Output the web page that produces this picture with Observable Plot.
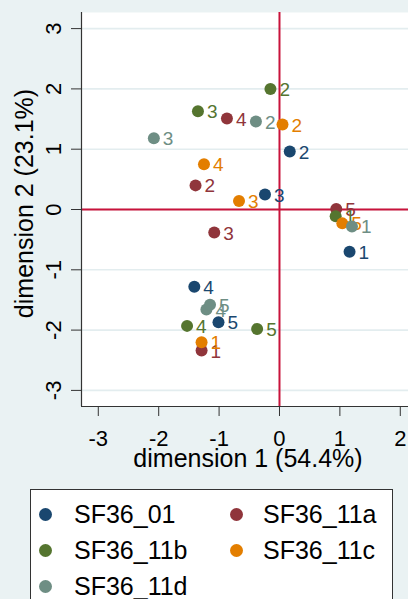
<!DOCTYPE html>
<html><head><meta charset="utf-8">
<script src="https://cdn.jsdelivr.net/npm/d3@7"></script>
<script src="https://cdn.jsdelivr.net/npm/@observablehq/plot@0.6"></script>
<style>
html,body{margin:0;padding:0;background:#eaf2f3;width:408px;height:599px;overflow:hidden;font-family:"Liberation Sans",Arial,sans-serif;}
#wrap{position:relative;width:408px;height:599px;}
#chart svg{display:block;}
#legend{position:absolute;left:30px;top:489px;width:363px;height:140px;background:#fff;border:1px solid #333;box-sizing:border-box;}
.item{position:absolute;font-size:25px;color:#000;line-height:26px;white-space:nowrap;}
.sw{position:absolute;width:13px;height:13px;border-radius:50%;}
</style></head><body><div id="wrap"><div id="chart"></div><div id="legend"></div></div>
<script>
const series = ["SF36_01", "SF36_11a", "SF36_11b", "SF36_11c", "SF36_11d"];
const colors = ["#1a476f", "#90353b", "#55752f", "#e37e00", "#6e8e84"];
const pointLabels = ["1", "2", "3", "4", "5"];
const dim1_SF36_01  = [1.16, 0.17, -0.24, -1.41, -1.01];
const dim2_SF36_01  = [-0.70, 0.96, 0.25, -1.28, -1.87];
const dim1_SF36_11a = [-1.29, -1.39, -1.08, -0.87, 0.94];
const dim2_SF36_11a = [-2.34, 0.40, -0.38, 1.51, 0.01];
const dim1_SF36_11b = [0.93, -0.15, -1.35, -1.53, -0.37];
const dim2_SF36_11b = [-0.11, 2.00, 1.63, -1.93, -1.98];
const dim1_SF36_11c = [-1.29, 0.05, -0.67, -1.25, 1.04];
const dim2_SF36_11c = [-2.20, 1.41, 0.14, 0.75, -0.23];
const dim1_SF36_11d = [1.20, -0.39, -2.08, -1.21, -1.15];
const dim2_SF36_11d = [-0.28, 1.46, 1.18, -1.66, -1.58];
const xTicks = [-3, -2, -1, 0, 1, 2];
const yTicks = [-3, -2, -1, 0, 1, 2, 3];
const xTitle = "dimension 1 (54.4%)";
const yTitle = "dimension 2 (23.1%)";

const dim1 = [dim1_SF36_01, dim1_SF36_11a, dim1_SF36_11b, dim1_SF36_11c, dim1_SF36_11d];
const dim2 = [dim2_SF36_01, dim2_SF36_11a, dim2_SF36_11b, dim2_SF36_11c, dim2_SF36_11d];
const groups = series.map((s, i) => pointLabels.map((lab, j) => ({series: s, label: lab, x: dim1[i][j], y: dim2[i][j]})));

const xDomain = [-3.278, 2.136];
const yDomain = [-3.267, 3.267];
const font = "Liberation Sans, Arial, sans-serif";
const fmt = d => String(d);

const seriesMarks = groups.flatMap((g, i) => [
  Plot.dot(g, {x: "x", y: "y", r: 6, fill: colors[i], stroke: null}),
  Plot.text(g, {x: "x", y: "y", text: "label", fill: colors[i], textAnchor: "start", dx: 9, dy: 1, fontSize: 19})
]);

const chart = Plot.plot({
  width: 408, height: 485,
  marginLeft: 81, marginRight: 0, marginTop: 12, marginBottom: 79,
  style: {background: "transparent", fontFamily: font, overflow: "visible"},
  x: {domain: xDomain},
  y: {domain: yDomain},
  marks: [
    Plot.frame({fill: "white", stroke: null}),
    Plot.gridY(yTicks, {stroke: "#e3edef", strokeOpacity: 1, strokeWidth: 1.6}),
    Plot.ruleX([0], {stroke: "#c8133b", strokeWidth: 2}),
    Plot.ruleY([0], {stroke: "#c8133b", strokeWidth: 2}),
    Plot.ruleX([xDomain[0]], {stroke: "#333", strokeWidth: 1.2}),
    Plot.ruleY([yDomain[0]], {stroke: "#333", strokeWidth: 1.2}),
    Plot.axisX(xTicks, {tickSize: 10, tickPadding: 14, fontSize: 22, tickFormat: fmt, label: null, stroke: "#333", fill: "#000"}),
    Plot.axisY(yTicks, {tickSize: 10, tickRotate: -90, tickPadding: 11, fontSize: 22, tickFormat: fmt, label: null, stroke: "#333", fill: "#000"}),
    Plot.text([xTitle], {text: d => d, frameAnchor: "bottom", dy: 60, dx: 3, lineAnchor: "bottom", textAnchor: "middle", fontSize: 25, fill: "#000"}),
    Plot.text([yTitle], {text: d => d, frameAnchor: "left", dx: -57, dy: -6, rotate: -90, textAnchor: "middle", lineAnchor: "middle", fontSize: 25, fill: "#000"}),
    ...seriesMarks
  ]
});
document.getElementById("chart").appendChild(chart);

const legend = document.getElementById("legend");
const pos = [[0,0],[1,0],[0,1],[1,1],[0,2]];
series.forEach((s, i) => {
  const [c, r] = pos[i];
  const cy = 24 + r * 36;
  const sw = document.createElement("div");
  sw.className = "sw";
  sw.style.background = colors[i];
  sw.style.left = (c ? 199 : 8) + "px";
  sw.style.top = (cy - 6.5) + "px";
  legend.appendChild(sw);
  const t = document.createElement("div");
  t.className = "item";
  t.textContent = s;
  t.style.left = (c ? 232 : 43) + "px";
  t.style.top = (cy - 13) + "px";
  legend.appendChild(t);
});
</script>
</body></html>
